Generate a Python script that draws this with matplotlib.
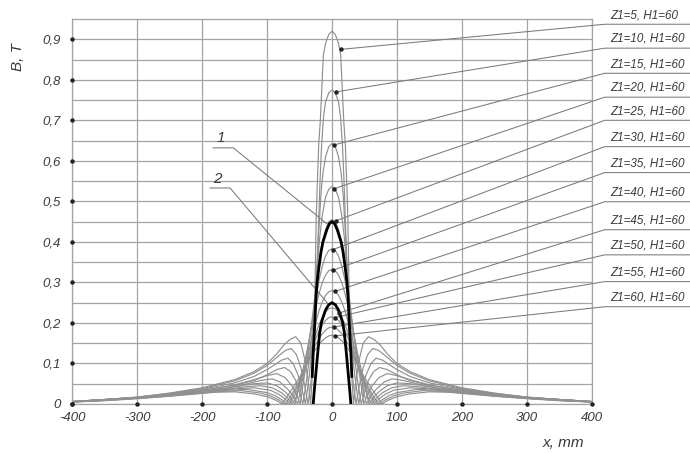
import numpy as np
import matplotlib.pyplot as plt

# half profiles (x >= 0, mm) of B (T); the other half is the mirror image
x_z5 = [0, 5, 10, 13.4, 16, 18, 20.5, 23, 24.5, 25.5, 26.5, 28, 30, 33, 37, 42, 48, 56, 64, 74, 86, 100, 120, 150, 200, 250, 300, 350, 400]
b_z5 = [.92, .912, .89, .86, .77, .70, .64, .53, .45, .35, .25, .16, .08, 0, .06, .11, .15, .166, .16, .146, .122, .10, .08, .06, .04, .027, .017, .011, .006]

x_z10 = [0, 5, 10, 13, 16, 18.5, 20.5, 22.5, 24.5, 26.5, 29, 32, 37, 42, 48, 55, 63, 72, 85, 100, 120, 150, 200, 250, 300, 350, 400]
b_z10 = [.775, .768, .745, .71, .64, .55, .455, .36, .27, .19, .12, .06, 0, .045, .09, .122, .137, .132, .115, .095, .076, .057, .038, .026, .017, .011, .006]

x_z15 = [0, 5, 10, 14, 17, 19.5, 22, 24, 26, 28, 31, 35, 41, 46, 52, 60, 68, 78, 90, 100, 120, 150, 200, 250, 300, 350, 400]
b_z15 = [.643, .635, .61, .57, .52, .45, .38, .31, .25, .19, .13, .07, 0, .035, .07, .1, .113, .108, .095, .085, .068, .052, .036, .025, .016, .011, .006]

x_z20 = [0, 5, 10, 15, 19, 22, 25, 28, 31, 35, 40, 45, 50, 56, 64, 73, 85, 100, 120, 150, 200, 250, 300, 350, 400]
b_z20 = [.537, .53, .51, .465, .41, .35, .29, .23, .17, .11, .05, 0, .03, .058, .08, .09, .085, .072, .058, .046, .034, .024, .016, .011, .006]

x_z25 = [0, 5, 10, 15, 20, 24, 28, 32, 36, 40, 45, 49, 55, 62, 72, 85, 100, 120, 150, 200, 250, 300, 350, 400]
b_z25 = [.455, .45, .43, .40, .35, .30, .245, .19, .14, .095, .045, 0, .025, .045, .065, .075, .07, .06, .047, .033, .024, .016, .011, .006]

x_z30 = [0, 5, 10, 15, 20, 25, 30, 35, 40, 45, 49, 53, 60, 68, 80, 92, 110, 130, 160, 200, 250, 300, 350, 400]
b_z30 = [.383, .379, .365, .34, .305, .26, .21, .16, .11, .065, .03, 0, .02, .036, .054, .062, .058, .05, .04, .032, .023, .016, .011, .006]

x_z35 = [0, 5, 10, 15, 20, 25, 30, 35, 40, 45, 50, 57, 64, 72, 85, 100, 120, 140, 170, 200, 250, 300, 350, 400]
b_z35 = [.332, .329, .318, .30, .272, .24, .20, .16, .12, .085, .05, 0, .016, .03, .045, .052, .05, .045, .037, .031, .022, .015, .01, .006]

x_z40 = [0, 5, 10, 15, 20, 25, 30, 35, 40, 45, 50, 55, 61, 68, 78, 92, 110, 130, 160, 200, 250, 300, 350, 400]
b_z40 = [.28, .277, .268, .252, .23, .202, .17, .135, .10, .07, .042, .018, 0, .014, .028, .04, .045, .043, .037, .03, .021, .015, .01, .005]

x_z45 = [0, 5, 10, 15, 20, 25, 30, 35, 40, 45, 50, 57, 65, 72, 82, 95, 120, 145, 170, 200, 250, 300, 350, 400]
b_z45 = [.237, .235, .227, .214, .196, .174, .148, .12, .094, .07, .048, .022, 0, .012, .024, .034, .04, .038, .034, .029, .021, .014, .009, .005]

x_z50 = [0, 5, 10, 15, 20, 25, 30, 35, 40, 45, 50, 56, 62, 69, 77, 88, 100, 130, 160, 200, 250, 300, 350, 400]
b_z50 = [.215, .213, .206, .195, .18, .162, .14, .118, .096, .075, .055, .035, .016, 0, .01, .021, .028, .036, .034, .028, .02, .014, .009, .005]

x_z55 = [0, 5, 10, 15, 20, 25, 30, 35, 40, 45, 50, 56, 62, 68, 73, 82, 95, 110, 140, 170, 200, 250, 300, 350, 400]
b_z55 = [.19, .188, .182, .173, .161, .147, .13, .112, .094, .076, .059, .041, .024, .01, 0, .01, .02, .027, .033, .031, .027, .02, .014, .009, .005]

x_z60 = [0, 5, 10, 15, 20, 25, 30, 35, 40, 45, 50, 55, 60, 66, 72, 77, 86, 100, 120, 150, 180, 200, 250, 300, 350, 400]
b_z60 = [.17, .168, .163, .156, .147, .136, .123, .108, .094, .08, .066, .053, .04, .026, .012, 0, .009, .018, .025, .03, .029, .026, .019, .013, .008, .005]

# bold curves 1 and 2
x_c1 = [0, 4, 8, 11, 14, 17, 20, 23, 25, 26.5, 28, 29.5, 30.5]
b_c1 = [.45, .445, .43, .415, .40, .375, .34, .30, .255, .20, .155, .11, .068]
x_c2 = [0, 5, 10, 13, 16.5, 19, 21.5, 23.5, 25.5, 27.5, 29]
b_c2 = [.25, .245, .232, .218, .20, .175, .135, .10, .065, .03, 0]

z1_list = [5, 10, 15, 20, 25, 30, 35, 40, 45, 50, 55, 60]
half_x = [x_z5, x_z10, x_z15, x_z20, x_z25, x_z30, x_z35, x_z40, x_z45, x_z50, x_z55, x_z60]
half_b = [b_z5, b_z10, b_z15, b_z20, b_z25, b_z30, b_z35, b_z40, b_z45, b_z50, b_z55, b_z60]

# points on the curves where the label leaders end
dot_x = [13.4, 5.6, 2.6, 3, 6, 1.5, 1.5, 5, 10, 4, 2.5, 5]
dot_b = [0.875, 0.770, 0.639, 0.531, 0.452, 0.381, 0.330, 0.278, 0.224, 0.213, 0.19, 0.168]

x_ticks = [-400, -300, -200, -100, 0, 100, 200, 300, 400]
x_tick_labels = ['-400', '-300', '-200', '-100', '0', '100', '200', '300', '400']
y_ticks = [0, 0.1, 0.2, 0.3, 0.4, 0.5, 0.6, 0.7, 0.8, 0.9]
y_tick_labels = ['0', '0,1', '0,2', '0,3', '0,4', '0,5', '0,6', '0,7', '0,8', '0,9']

FONT = dict(family=['Liberation Sans', 'DejaVu Sans'], style='italic', color='#3a3a3a')
GRID = '#a4a4a4'
THIN = '#909090'


def mirror(x, b):
    x = np.asarray(x, float)
    b = np.asarray(b, float)
    return np.concatenate([-x[::-1], x[1:]]), np.concatenate([b[::-1], b[1:]])


fig = plt.figure(figsize=(6.9, 4.53), dpi=100)
ax = fig.add_axes([0.1048, 0.1082, 0.7528, 0.8499])
ax.set_xlim(-400, 400)
ax.set_ylim(0, 0.95)

ax.set_xticks(x_ticks)
ax.set_xticklabels(x_tick_labels, fontsize=9.5, **FONT)
ax.set_yticks(y_ticks)
ax.set_yticklabels(y_tick_labels, fontsize=9.5, **FONT)
ax.set_yticks(np.arange(0.05, 0.95, 0.1), minor=True)
ax.tick_params(which='both', length=0)
ax.tick_params(axis='x', pad=6)
ax.tick_params(axis='y', pad=8)
ax.grid(which='both', color=GRID, lw=0.9)
ax.set_axisbelow(True)
for sp in ax.spines.values():
    sp.set_color(GRID)
    sp.set_linewidth(0.9)

# tick dots on the axes
ax.plot(x_ticks, [0] * len(x_ticks), 'o', color='#222222', ms=2.2, clip_on=False, zorder=5)
ax.plot([-400] * len(y_ticks), y_ticks, 'o', color='#222222', ms=2.2, clip_on=False, zorder=5)

# family of curves
for x, b in zip(half_x, half_b):
    xx, bb = mirror(x, b)
    ax.plot(xx, bb, color=THIN, lw=0.85, zorder=2)

for x, b in [(x_c1, b_c1), (x_c2, b_c2)]:
    xx, bb = mirror(x, b)
    ax.plot(xx, bb, color='black', lw=2.0, zorder=4)

# labels on the right with leaders
label_y = [0.937, 0.878, 0.816, 0.757, 0.700, 0.635, 0.571, 0.499, 0.430, 0.368, 0.302, 0.240]
for z, yb, dx, db in zip(z1_list, label_y, dot_x, dot_b):
    ax.plot([dx, 420, 552], [db, yb, yb], color='#7a7a7a', lw=0.75, clip_on=False, zorder=3)
    ax.text(428, yb + 0.008, f'Z1={z}, H1=60', fontsize=8.4, ha='left', va='bottom',
            clip_on=False, **FONT)
ax.plot(dot_x, dot_b, 'o', color='#222222', ms=2.2, zorder=6)

# callouts 1 and 2
ax.plot([-183, -152, -8], [0.632, 0.632, 0.445], color='#7a7a7a', lw=0.75, zorder=3)
ax.text(-171, 0.638, '1', fontsize=11, ha='center', va='bottom', **FONT)
ax.plot([-188, -157, -6], [0.533, 0.533, 0.247], color='#7a7a7a', lw=0.75, zorder=3)
ax.text(-176, 0.539, '2', fontsize=11, ha='center', va='bottom', **FONT)

fig.text(18 / 690, 1 - 57 / 453, 'B, T', rotation=90, ha='center', va='center', fontsize=11, **FONT)
fig.text(563 / 690, 1 - 443 / 453, 'x, mm', ha='center', va='center', fontsize=11, **FONT)

fig.savefig('out.png', dpi=100)
